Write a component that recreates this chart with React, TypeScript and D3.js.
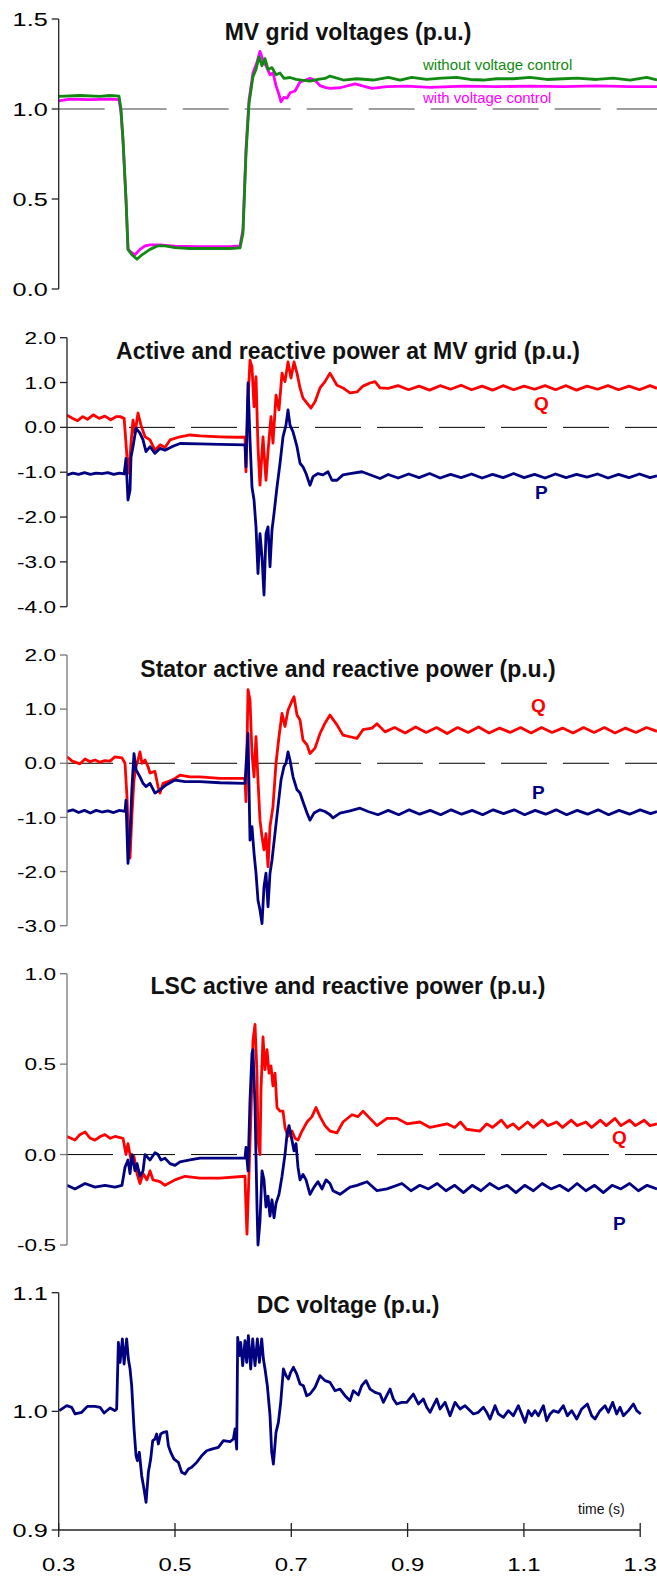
import React from "react"
import * as d3 from "d3"

// MV grid voltages (p.u.)  [time s, value]
const mvWithoutCtrl = [[0.300,1.07],[0.3366,1.075],[0.371,1.07],[0.388,1.075],[0.4037,1.072],[0.4071,1.0],[0.4106,0.83],[0.4157,0.5],[0.4192,0.22],[0.426,0.19],[0.4346,0.165],[0.4432,0.19],[0.457,0.22],[0.4707,0.24],[0.4828,0.24],[0.5,0.23],[0.5258,0.225],[0.5602,0.225],[0.5946,0.225],[0.6118,0.228],[0.6169,0.31],[0.6221,0.75],[0.6273,1.03],[0.6341,1.18],[0.6393,1.22],[0.6445,1.29],[0.6496,1.24],[0.6548,1.28],[0.66,1.22],[0.6668,1.23],[0.6737,1.19],[0.6806,1.2],[0.6875,1.17],[0.6978,1.175],[0.7081,1.165],[0.7184,1.16],[0.7322,1.155],[0.7459,1.165],[0.758,1.17],[0.7666,1.183],[0.7895,1.161],[0.8125,1.168],[0.8411,1.161],[0.8669,1.176],[0.887,1.161],[0.907,1.176],[0.9328,1.164],[0.9586,1.172],[0.9844,1.176],[1.0074,1.164],[1.0303,1.161],[1.0532,1.168],[1.0819,1.168],[1.1105,1.176],[1.1392,1.164],[1.1679,1.168],[1.1908,1.172],[1.2252,1.164],[1.2539,1.172],[1.2825,1.161],[1.3112,1.176],[1.329,1.161]]
const mvWithCtrl = [[0.300,1.045],[0.3194,1.055],[0.3538,1.052],[0.3882,1.055],[0.4037,1.052],[0.4071,0.98],[0.4106,0.82],[0.4157,0.5],[0.4192,0.22],[0.426,0.2],[0.4312,0.19],[0.4398,0.22],[0.4484,0.24],[0.457,0.245],[0.4742,0.245],[0.5,0.238],[0.543,0.235],[0.5946,0.235],[0.6118,0.24],[0.6169,0.33],[0.6221,0.78],[0.6273,1.05],[0.6341,1.2],[0.641,1.26],[0.6462,1.32],[0.6514,1.27],[0.6565,1.24],[0.6634,1.19],[0.6686,1.2],[0.6737,1.13],[0.6789,1.08],[0.6823,1.04],[0.6875,1.065],[0.6927,1.06],[0.6978,1.09],[0.7064,1.1],[0.715,1.15],[0.7236,1.16],[0.7322,1.17],[0.7408,1.16],[0.7494,1.13],[0.758,1.12],[0.7666,1.115],[0.7838,1.118],[0.8096,1.139],[0.8383,1.115],[0.8641,1.124],[0.8984,1.127],[0.9386,1.12],[0.9959,1.127],[1.0532,1.124],[1.1105,1.127],[1.1679,1.124],[1.2252,1.129],[1.2825,1.124],[1.329,1.124]]

// Active and reactive power at MV grid (p.u.)
const gridQ = [[0.300,0.27],[0.310,0.20],[0.318,0.15],[0.327,0.24],[0.335,0.18],[0.345,0.28],[0.355,0.20],[0.365,0.25],[0.375,0.17],[0.385,0.24],[0.391,0.24],[0.398,0.20],[0.4029,-0.66],[0.4063,-1.02],[0.4098,-0.35],[0.4132,0.16],[0.4166,-0.13],[0.4218,0.32],[0.4269,0.05],[0.4338,-0.21],[0.4424,-0.28],[0.4509,-0.51],[0.4595,-0.39],[0.4681,-0.45],[0.4767,-0.28],[0.4938,-0.21],[0.5110,-0.17],[0.5281,-0.19],[0.5624,-0.21],[0.5900,-0.22],[0.6053,-0.22],[0.6070,-0.99],[0.6105,0.61],[0.6139,1.50],[0.6173,1.35],[0.6208,0.46],[0.6242,1.13],[0.6276,-0.43],[0.6310,-1.29],[0.6362,-0.21],[0.6413,-1.18],[0.6448,-0.54],[0.6499,0.24],[0.6533,-0.35],[0.6585,0.72],[0.6636,0.39],[0.6688,1.21],[0.6739,1.02],[0.6791,1.46],[0.6842,1.10],[0.6894,1.46],[0.6945,1.21],[0.6997,0.88],[0.7048,0.65],[0.7117,0.54],[0.7185,0.43],[0.7254,0.57],[0.7340,0.88],[0.7425,1.02],[0.7511,1.21],[0.7631,0.94],[0.7734,0.88],[0.7854,0.77],[0.7974,0.79],[0.8077,0.92],[0.8197,0.99],[0.8283,1.02],[0.8369,0.88],[0.851,0.87],[0.868,0.93],[0.886,0.84],[0.904,0.92],[0.922,0.83],[0.940,0.93],[0.958,0.85],[0.976,0.94],[0.994,0.84],[1.012,0.92],[1.030,0.83],[1.048,0.93],[1.066,0.84],[1.084,0.92],[1.102,0.85],[1.120,0.93],[1.138,0.84],[1.156,0.93],[1.174,0.83],[1.192,0.92],[1.210,0.85],[1.228,0.93],[1.246,0.84],[1.264,0.92],[1.282,0.84],[1.300,0.93],[1.312,0.87]]
const gridP = [[0.300,-1.06],[0.310,-1.02],[0.320,-1.05],[0.330,-1.01],[0.340,-1.05],[0.350,-1.02],[0.360,-1.03],[0.370,-1.01],[0.380,-1.05],[0.390,-1.02],[0.398,-1.04],[0.4012,-0.69],[0.4046,-1.62],[0.4081,-1.40],[0.4098,-0.66],[0.4132,-0.43],[0.4184,-0.02],[0.4252,-0.13],[0.4304,-0.28],[0.4355,-0.54],[0.4424,-0.43],[0.4509,-0.58],[0.4595,-0.47],[0.4681,-0.51],[0.4801,-0.43],[0.4938,-0.36],[0.5281,-0.37],[0.5624,-0.38],[0.6053,-0.39],[0.6070,-0.88],[0.6105,0.99],[0.6139,-0.28],[0.6173,-1.33],[0.6208,-1.62],[0.6242,-2.22],[0.6276,-3.26],[0.6310,-2.37],[0.6345,-2.89],[0.6379,-3.74],[0.6413,-2.37],[0.6448,-2.22],[0.6482,-3.11],[0.6516,-2.29],[0.6551,-1.92],[0.6602,-1.33],[0.6654,-0.80],[0.6705,-0.21],[0.6756,0.05],[0.6791,0.39],[0.6825,0.05],[0.6877,-0.10],[0.6945,-0.43],[0.6997,-0.80],[0.7048,-0.88],[0.7100,-1.03],[0.7168,-1.29],[0.7220,-1.10],[0.7305,-1.03],[0.7391,-1.06],[0.7477,-0.99],[0.7545,-1.18],[0.7631,-1.18],[0.7734,-1.06],[0.7854,-1.03],[0.8060,-0.99],[0.8369,-1.14],[0.851,-1.05],[0.868,-1.13],[0.886,-1.04],[0.904,-1.12],[0.922,-1.03],[0.940,-1.13],[0.958,-1.05],[0.976,-1.12],[0.994,-1.04],[1.012,-1.13],[1.030,-1.05],[1.048,-1.12],[1.066,-1.03],[1.084,-1.12],[1.102,-1.05],[1.120,-1.13],[1.138,-1.04],[1.156,-1.12],[1.174,-1.05],[1.192,-1.11],[1.210,-1.04],[1.228,-1.13],[1.246,-1.05],[1.264,-1.12],[1.282,-1.04],[1.300,-1.12],[1.312,-1.08]]

// Stator active and reactive power (p.u.)
const statorQ = [[0.300,0.12],[0.309,0.04],[0.3223,-0.01],[0.331,0.08],[0.3395,0.03],[0.348,0.06],[0.3566,0.02],[0.3652,0.05],[0.3738,0.04],[0.3823,0.12],[0.3943,0.10],[0.3995,0.0],[0.4029,-0.62],[0.4063,-1.66],[0.4081,-1.75],[0.4115,-0.92],[0.4149,-0.31],[0.4184,-0.06],[0.4218,0.06],[0.4252,0.21],[0.4286,0.0],[0.4338,0.06],[0.4389,-0.06],[0.4424,-0.18],[0.4509,-0.15],[0.4561,-0.43],[0.4595,-0.55],[0.4647,-0.37],[0.4732,-0.34],[0.4852,-0.28],[0.4938,-0.22],[0.5110,-0.25],[0.5281,-0.25],[0.5624,-0.28],[0.6053,-0.28],[0.6070,-0.71],[0.6105,1.36],[0.6139,1.17],[0.6173,0.18],[0.6208,-0.25],[0.6242,0.49],[0.6276,-0.31],[0.6310,-1.05],[0.6345,-1.36],[0.6379,-1.60],[0.6413,-1.30],[0.6448,-1.91],[0.6482,-1.17],[0.6533,-0.80],[0.6585,0.0],[0.6636,0.49],[0.6688,0.92],[0.6739,0.68],[0.6791,0.98],[0.6842,1.11],[0.6894,1.23],[0.6945,0.89],[0.6997,0.80],[0.7048,0.43],[0.7117,0.34],[0.7168,0.18],[0.7254,0.28],[0.7340,0.55],[0.7425,0.74],[0.7511,0.89],[0.7631,0.71],[0.7734,0.52],[0.7854,0.49],[0.7974,0.46],[0.8077,0.62],[0.8232,0.65],[0.8317,0.73],[0.8455,0.58],[0.862,0.66],[0.880,0.56],[0.898,0.67],[0.916,0.57],[0.934,0.66],[0.952,0.55],[0.970,0.66],[0.988,0.57],[1.006,0.67],[1.024,0.56],[1.042,0.65],[1.060,0.57],[1.078,0.66],[1.096,0.56],[1.114,0.66],[1.132,0.57],[1.150,0.65],[1.168,0.56],[1.186,0.66],[1.204,0.57],[1.222,0.66],[1.240,0.56],[1.258,0.65],[1.276,0.57],[1.294,0.66],[1.312,0.59]]
const statorP = [[0.300,-0.89],[0.310,-0.86],[0.320,-0.91],[0.330,-0.87],[0.340,-0.92],[0.350,-0.87],[0.360,-0.90],[0.370,-0.88],[0.380,-0.91],[0.390,-0.87],[0.3995,-0.89],[0.4012,-0.68],[0.4046,-1.85],[0.4081,-1.30],[0.4115,-0.43],[0.4149,0.18],[0.4184,-0.12],[0.4252,-0.25],[0.4304,-0.37],[0.4355,-0.43],[0.4424,-0.37],[0.4509,-0.55],[0.4595,-0.49],[0.4698,-0.40],[0.4852,-0.31],[0.5024,-0.34],[0.5281,-0.34],[0.5624,-0.36],[0.6053,-0.37],[0.6070,-0.06],[0.6105,0.55],[0.6139,-1.42],[0.6173,-1.17],[0.6208,-1.66],[0.6242,-2.03],[0.6276,-2.53],[0.6310,-2.71],[0.6345,-2.96],[0.6379,-2.28],[0.6413,-2.03],[0.6448,-2.65],[0.6482,-2.03],[0.6516,-1.79],[0.6568,-1.29],[0.6619,-0.80],[0.6671,-0.31],[0.6722,-0.06],[0.6756,0.0],[0.6791,0.21],[0.6825,0.06],[0.6877,-0.25],[0.6945,-0.49],[0.6997,-0.55],[0.7048,-0.71],[0.7117,-0.92],[0.7168,-1.05],[0.7237,-0.92],[0.7340,-0.86],[0.7425,-0.89],[0.7511,-0.95],[0.7563,-1.01],[0.7683,-0.92],[0.7854,-0.88],[0.8026,-0.83],[0.8163,-0.89],[0.8334,-0.95],[0.851,-0.87],[0.869,-0.95],[0.887,-0.86],[0.905,-0.94],[0.923,-0.87],[0.941,-0.95],[0.959,-0.86],[0.977,-0.94],[0.995,-0.87],[1.013,-0.95],[1.031,-0.86],[1.049,-0.93],[1.067,-0.86],[1.085,-0.95],[1.103,-0.87],[1.121,-0.94],[1.139,-0.86],[1.157,-0.95],[1.175,-0.87],[1.193,-0.94],[1.211,-0.86],[1.229,-0.95],[1.247,-0.87],[1.265,-0.94],[1.283,-0.86],[1.301,-0.93],[1.312,-0.89]]

// LSC active and reactive power (p.u.)
const lscQ = [[0.300,0.10],[0.3137,0.08],[0.322,0.11],[0.3309,0.125],[0.340,0.09],[0.348,0.08],[0.357,0.10],[0.3652,0.11],[0.374,0.09],[0.3823,0.10],[0.3961,0.09],[0.4012,0.0],[0.4046,0.06],[0.4098,-0.03],[0.4149,-0.01],[0.4201,-0.105],[0.4252,-0.16],[0.4304,-0.105],[0.4372,-0.14],[0.4424,-0.09],[0.4475,-0.14],[0.4595,-0.15],[0.4681,-0.17],[0.4852,-0.14],[0.5024,-0.12],[0.5281,-0.13],[0.5624,-0.13],[0.6053,-0.12],[0.6070,-0.29],[0.6087,-0.44],[0.6122,-0.105],[0.6156,0.23],[0.6190,0.63],[0.6225,0.72],[0.6259,0.45],[0.6276,0.08],[0.6310,0.0],[0.6328,0.36],[0.6362,0.65],[0.6396,0.47],[0.6431,0.58],[0.6465,0.45],[0.6499,0.49],[0.6533,0.38],[0.6568,0.45],[0.6602,0.26],[0.6654,0.24],[0.6705,0.24],[0.6739,0.15],[0.6791,0.10],[0.6859,0.13],[0.6911,0.09],[0.6962,0.08],[0.7031,0.13],[0.7117,0.18],[0.7202,0.21],[0.7271,0.26],[0.7340,0.21],[0.7425,0.16],[0.7511,0.13],[0.7631,0.12],[0.7734,0.18],[0.7889,0.22],[0.7991,0.21],[0.8077,0.24],[0.8197,0.20],[0.8317,0.16],[0.8489,0.20],[0.866,0.20],[0.8832,0.17],[0.9055,0.18],[0.9226,0.15],[0.9518,0.17],[0.965,0.15],[0.975,0.18],[0.985,0.14],[1.0084,0.13],[1.02,0.17],[1.03,0.15],[1.045,0.19],[1.055,0.15],[1.065,0.17],[1.075,0.14],[1.09,0.18],[1.10,0.15],[1.115,0.19],[1.125,0.16],[1.14,0.18],[1.15,0.15],[1.165,0.19],[1.175,0.16],[1.19,0.18],[1.20,0.15],[1.215,0.19],[1.225,0.16],[1.24,0.20],[1.25,0.16],[1.265,0.19],[1.275,0.16],[1.29,0.19],[1.30,0.16],[1.312,0.17]]
const lscP = [[0.300,-0.17],[0.3137,-0.19],[0.3309,-0.16],[0.348,-0.18],[0.3652,-0.17],[0.3823,-0.18],[0.3943,-0.17],[0.3995,-0.07],[0.4046,-0.03],[0.4081,-0.105],[0.4115,0.0],[0.4166,-0.09],[0.4201,-0.05],[0.4252,-0.12],[0.4304,-0.09],[0.4338,0.0],[0.4424,-0.03],[0.4509,0.01],[0.4561,0.0],[0.4612,-0.03],[0.4681,-0.02],[0.4767,-0.05],[0.4852,-0.06],[0.4938,-0.04],[0.5110,-0.03],[0.5281,-0.02],[0.5624,-0.02],[0.6053,-0.02],[0.6070,0.04],[0.6105,-0.09],[0.6139,0.30],[0.6173,0.56],[0.6190,0.58],[0.6225,0.27],[0.6259,-0.29],[0.6276,-0.50],[0.6310,-0.37],[0.6345,-0.09],[0.6379,-0.14],[0.6413,-0.29],[0.6448,-0.23],[0.6482,-0.34],[0.6516,-0.25],[0.6551,-0.35],[0.6585,-0.27],[0.6636,-0.22],[0.6688,-0.12],[0.6739,0.0],[0.6774,0.11],[0.6808,0.16],[0.6859,0.08],[0.6894,0.02],[0.6928,0.06],[0.6962,-0.07],[0.6997,-0.14],[0.7048,-0.11],[0.7100,-0.14],[0.7168,-0.22],[0.7237,-0.18],[0.7305,-0.15],[0.7374,-0.19],[0.7443,-0.14],[0.7511,-0.16],[0.7563,-0.20],[0.7683,-0.22],[0.7854,-0.18],[0.7974,-0.17],[0.8146,-0.15],[0.8317,-0.20],[0.8489,-0.19],[0.8746,-0.16],[0.890,-0.20],[0.905,-0.17],[0.920,-0.19],[0.935,-0.16],[0.950,-0.20],[0.965,-0.17],[0.980,-0.21],[0.995,-0.17],[1.010,-0.20],[1.025,-0.16],[1.040,-0.19],[1.055,-0.17],[1.070,-0.21],[1.085,-0.17],[1.100,-0.20],[1.115,-0.16],[1.130,-0.19],[1.145,-0.17],[1.160,-0.20],[1.175,-0.16],[1.190,-0.20],[1.205,-0.17],[1.220,-0.21],[1.235,-0.17],[1.250,-0.19],[1.265,-0.16],[1.280,-0.20],[1.295,-0.17],[1.312,-0.19]]

// DC voltage (p.u.)
const dcVoltage = [[0.3011,1.0006],[0.3138,1.0048],[0.3224,1.0034],[0.3281,0.9978],[0.3396,0.9992],[0.3493,1.0042],[0.3625,1.0042],[0.3711,1.0034],[0.3780,0.9986],[0.3883,1.0028],[0.3969,1.0006],[0.3997,1.002],[0.4026,1.0582],[0.4055,1.0413],[0.4095,1.061],[0.4124,1.0399],[0.4169,1.061],[0.4198,1.0441],[0.4227,1.0357],[0.4255,1.0216],[0.4296,0.9851],[0.4330,0.9626],[0.4353,0.9584],[0.4387,0.9655],[0.4427,0.9458],[0.4467,0.9345],[0.4502,0.9233],[0.4542,0.9486],[0.4582,0.9598],[0.4617,0.9753],[0.4657,0.9767],[0.4685,0.9809],[0.4714,0.9725],[0.4754,0.9809],[0.4800,0.9823],[0.4857,0.9829],[0.4886,0.9711],[0.4926,0.9654],[0.4983,0.9598],[0.5058,0.957],[0.5115,0.9486],[0.5173,0.9472],[0.5230,0.9514],[0.5287,0.9528],[0.5373,0.957],[0.5459,0.9626],[0.5545,0.9668],[0.5631,0.9682],[0.5746,0.9697],[0.5832,0.9753],[0.5946,0.9744],[0.6004,0.9767],[0.6032,0.9851],[0.6061,0.9682],[0.6078,1.0624],[0.6107,1.0469],[0.6130,1.0582],[0.6164,1.0385],[0.6204,1.0596],[0.6233,1.0413],[0.6262,1.0638],[0.6302,1.0357],[0.6336,1.061],[0.6376,1.0385],[0.6416,1.061],[0.6451,1.0413],[0.6491,1.061],[0.6520,1.0441],[0.6548,1.0357],[0.6588,1.0216],[0.6634,0.9963],[0.6663,0.9654],[0.6692,0.9556],[0.6737,0.9823],[0.6778,0.9907],[0.6818,1.0076],[0.6864,1.0357],[0.6909,1.0301],[0.6950,1.0273],[0.6990,1.0329],[0.7036,1.0371],[0.7093,1.0315],[0.7150,1.023],[0.7208,1.0216],[0.7265,1.0132],[0.7322,1.0146],[0.7408,1.0202],[0.7494,1.0301],[0.7580,1.0259],[0.7666,1.0244],[0.7752,1.0174],[0.7838,1.0188],[0.7924,1.0132],[0.8010,1.009],[0.8067,1.0174],[0.8153,1.0138],[0.8211,1.0216],[0.8285,1.0259],[0.8354,1.0188],[0.8440,1.016],[0.8526,1.0146],[0.8583,1.0076],[0.8641,1.0132],[0.8698,1.0188],[0.8755,1.0104],[0.8813,1.0062],[0.8899,1.0076],[0.8985,1.0076],[0.9099,1.0146],[0.9185,1.0062],[0.9271,1.0104],[0.9329,1.0034],[0.9386,0.9992],[0.9443,1.0048],[0.9500,1.0104],[0.9558,1.002],[0.9644,1.0076],[0.9730,0.9963],[0.9816,1.0076],[0.9902,1.002],[0.9988,1.0048],[1.0045,1.002],[1.0131,0.9978],[1.0217,0.9992],[1.0303,1.0034],[1.0360,0.9992],[1.0418,0.9935],[1.0504,1.0048],[1.0561,0.9978],[1.0647,0.9949],[1.0733,1.0006],[1.0819,0.9963],[1.0905,1.0048],[1.0962,0.9978],[1.1020,0.9907],[1.1077,1.0006],[1.1134,0.9963],[1.1192,1.0006],[1.1249,0.9963],[1.1335,1.0048],[1.1392,0.9921],[1.1450,0.9978],[1.1507,1.0006],[1.1593,0.9992],[1.1679,1.0048],[1.1748,0.9963],[1.1822,1.0006],[1.1908,0.9935],[1.1994,1.002],[1.2091,1.0062],[1.2166,0.9963],[1.2223,0.9935],[1.2309,1.0006],[1.2395,1.0048],[1.2453,0.9992],[1.2527,1.0076],[1.2596,0.9978],[1.2653,1.0034],[1.2711,0.9963],[1.2797,1.0006],[1.2883,1.0062],[1.2940,1.0006],[1.3009,0.9978]]

// tick values
const timeTicks = [0.3, 0.5, 0.7, 0.9, 1.1, 1.3]
const mvTicks = [0, 0.5, 1.0, 1.5]
const gridTicks = [-4, -3, -2, -1, 0, 1, 2]
const statorTicks = [-3, -2, -1, 0, 1, 2]
const lscTicks = [-0.5, 0, 0.5, 1.0]
const dcTicks = [0.9, 1.0, 1.1]

const GREEN = "#118a11"
const MAGENTA = "#ff00ff"
const RED = "#ff0000"
const NAVY = "#000080"

const W = 657
const H = 1576

const panels = [
  {
    title: "MV grid voltages (p.u.)", titleY: 40,
    xRange: [58.7, 640.2], yDomain: [0, 1.5], yRange: [289, 19], ticks: mvTicks, axisColor: "#222", fs: 19,
    refLine: 1.0, refColor: "#808080", refWidth: 1.6,
    series: [{ data: mvWithCtrl, color: MAGENTA }, { data: mvWithoutCtrl, color: GREEN }],
    labels: [
      { text: "without voltage control", x: 423, y: 70, color: GREEN, bold: false, size: 15 },
      { text: "with voltage control", x: 423, y: 103, color: MAGENTA, bold: false, size: 15 },
    ],
  },
  {
    title: "Active and reactive power at MV grid (p.u.)", titleY: 359,
    xRange: [67, 650], yDomain: [-4, 2], yRange: [606.7, 337.7], ticks: gridTicks, axisColor: "#222", fs: 17,
    refLine: 0, refColor: "#000", refWidth: 1,
    series: [{ data: gridQ, color: RED }, { data: gridP, color: NAVY }],
    labels: [
      { text: "Q", x: 534, y: 410, color: RED, bold: true, size: 19 },
      { text: "P", x: 535, y: 499, color: NAVY, bold: true, size: 19 },
    ],
  },
  {
    title: "Stator active and reactive power (p.u.)", titleY: 677,
    xRange: [67, 650], yDomain: [-3, 2], yRange: [925.7, 655], ticks: statorTicks, axisColor: "#777", fs: 17,
    refLine: 0, refColor: "#000", refWidth: 1,
    series: [{ data: statorQ, color: RED }, { data: statorP, color: NAVY }],
    labels: [
      { text: "Q", x: 531, y: 712, color: RED, bold: true, size: 19 },
      { text: "P", x: 532, y: 799, color: NAVY, bold: true, size: 19 },
    ],
  },
  {
    title: "LSC active and reactive power (p.u.)", titleY: 994,
    xRange: [67, 650], yDomain: [-0.5, 1.0], yRange: [1245, 973.7], ticks: lscTicks, axisColor: "#777", fs: 17,
    refLine: 0, refColor: "#000", refWidth: 1,
    series: [{ data: lscQ, color: RED }, { data: lscP, color: NAVY }],
    labels: [
      { text: "Q", x: 612, y: 1144, color: RED, bold: true, size: 19 },
      { text: "P", x: 613, y: 1230, color: NAVY, bold: true, size: 19 },
    ],
  },
  {
    title: "DC voltage (p.u.)", titleY: 1313,
    xRange: [58.7, 640.2], yDomain: [0.9, 1.1], yRange: [1530, 1292.7], ticks: dcTicks, axisColor: "#222", fs: 19,
    refLine: null, refColor: "", refWidth: 0,
    series: [{ data: dcVoltage, color: NAVY }],
    labels: [],
    xAxis: true,
  },
]

const fmt = (v: number) => v.toFixed(1)

function Panel({ p }: { p: any }) {
  const x = d3.scaleLinear().domain([0.3, 1.3]).range(p.xRange)
  const y = d3.scaleLinear().domain(p.yDomain).range(p.yRange)
  const line = d3.line<number[]>().x(d => x(d[0])).y(d => y(d[1]))
  const ax = p.xRange[0]
  const clipId = "clip" + p.titleY
  return (
    <g>
      <defs>
        <clipPath id={clipId}>
          <rect x={ax} y={p.yRange[1] - 10} width={W - ax} height={p.yRange[0] - p.yRange[1] + 20} />
        </clipPath>
      </defs>
      {p.refLine !== null && (
        <line x1={ax} x2={W} y1={y(p.refLine)} y2={y(p.refLine)} stroke={p.refColor}
          strokeWidth={p.refWidth} strokeDasharray="46,16" />
      )}
      <g clipPath={`url(#${clipId})`}>
        {p.series.map((s: any, i: number) => (
          <path key={i} d={line(s.data) || ""} fill="none" stroke={s.color} strokeWidth={2.8}
            strokeLinejoin="round" />
        ))}
      </g>
      <line x1={ax} x2={ax} y1={p.yRange[0]} y2={p.yRange[1]} stroke={p.axisColor} strokeWidth={1.3} />
      {p.ticks.map((t: number) => (
        <g key={t}>
          <line x1={ax - 7} x2={ax} y1={y(t)} y2={y(t)} stroke={p.axisColor} strokeWidth={1.3} />
          <text transform={`translate(${ax - 11},${y(t)}) scale(1.33,1)`} textAnchor="end" dy="0.36em"
            fontSize={p.fs} fill="#000">{fmt(t)}</text>
        </g>
      ))}
      {p.xAxis && (
        <g>
          <line x1={p.xRange[0]} x2={p.xRange[1]} y1={p.yRange[0]} y2={p.yRange[0]} stroke="#222" strokeWidth={1.3} />
          {timeTicks.map(t => (
            <g key={t}>
              <line x1={x(t)} x2={x(t)} y1={p.yRange[0] - 7} y2={p.yRange[0] + 7} stroke="#222" strokeWidth={1.3} />
              <text transform={`translate(${x(t)},1571) scale(1.33,1)`} textAnchor="middle"
                fontSize={18} fill="#000">{fmt(t)}</text>
            </g>
          ))}
          <text x={578} y={1514} fontSize={14} fill="#111">time (s)</text>
        </g>
      )}
      <text x={348} y={p.titleY} textAnchor="middle" fontSize={23} fontWeight="bold" fill="#111">{p.title}</text>
      {p.labels.map((l: any) => (
        <text key={l.text} x={l.x} y={l.y} fontSize={l.size} fontWeight={l.bold ? "bold" : "normal"} fill={l.color}>
          {l.text}
        </text>
      ))}
    </g>
  )
}

export default function App() {
  return (
    <svg width={W} height={H} viewBox={`0 0 ${W} ${H}`}
      style={{ position: "absolute", left: 0, top: 0, background: "#fff", fontFamily: "'Liberation Sans', Arial, Helvetica, sans-serif" }}>
      {panels.map(p => <Panel key={p.titleY} p={p} />)}
    </svg>
  )
}
